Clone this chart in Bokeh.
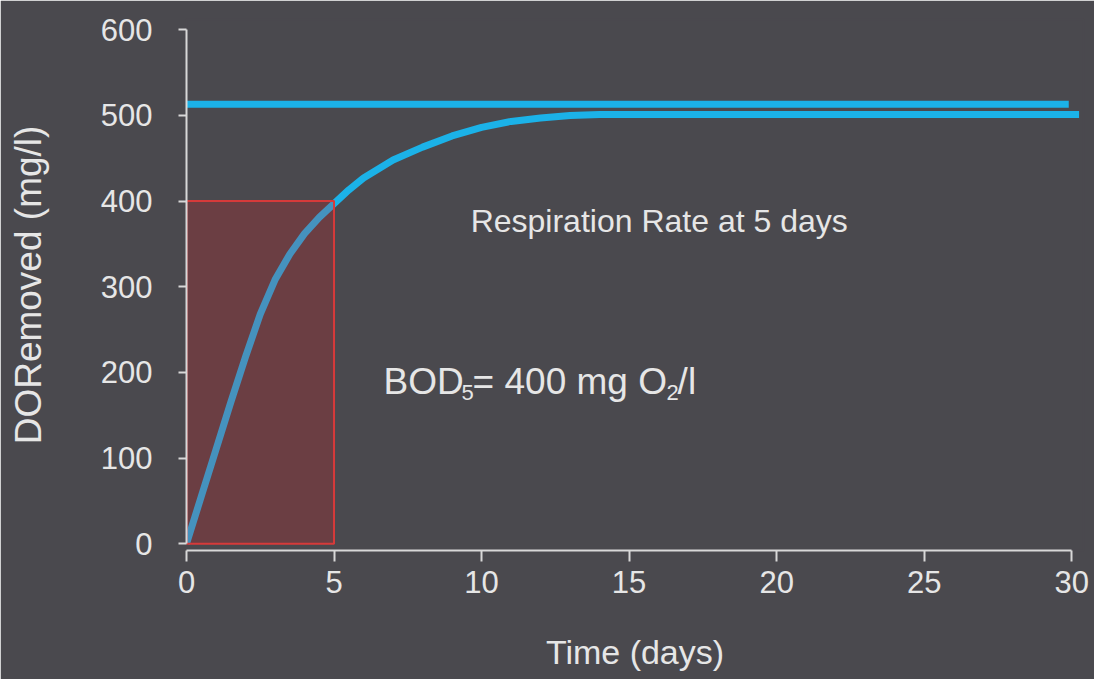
from bokeh.plotting import figure
from bokeh.models import ColumnDataSource, FixedTicker
from bokeh.core.properties import value
from bokeh.embed import file_html
from bokeh.resources import INLINE

# ---- data ----
time_days = [0, 0.5, 1, 1.5, 2, 2.5, 3, 3.5, 4, 4.5, 5, 5.5, 6, 7, 8, 9, 10, 11, 12, 13, 14, 20, 25, 30.25]
do_removed = [0, 55, 110, 165, 218, 268, 308, 338, 362, 381, 397, 413, 427, 448, 463, 476, 486, 493, 497, 500, 501, 501, 501, 501]

ultimate_x = [-0.2, 29.9]
ultimate_y = [513, 513]

bod5_day = 5
bod5_value = 400

x_ticks = [0, 5, 10, 15, 20, 25, 30]
y_ticks = [0, 100, 200, 300, 400, 500, 600]

note_text = ["Respiration Rate at 5 days"]
note_x = [9.63]
note_y = [377]

bod_parts = ["BOD", "5", "= 400 mg O", "2", "/l"]

BG = "#4a494e"
BLUE = "#1bb2e8"
FG = "#e6e6e6"
FONT = "Liberation Sans"

p = figure(width=1094, height=679, output_backend="svg", toolbar_location=None,
           x_range=(0, 30.4), y_range=(-8, 612),
           min_border_left=186, min_border_right=11, min_border_top=19, min_border_bottom=129)
p.background_fill_color = BG
p.border_fill_color = BG
p.outline_line_color = BG
p.outline_line_width = 2
p.xgrid.visible = False
p.ygrid.visible = False

for ax in (p.xaxis[0], p.yaxis[0]):
    ax.axis_line_color = "#d8d8d8"
    ax.axis_line_width = 2
    ax.major_tick_line_color = "#d8d8d8"
    ax.major_tick_line_width = 2
    ax.minor_tick_line_color = None
    ax.major_tick_in = 0
    ax.major_label_text_color = FG
    ax.major_label_text_font = FONT
    ax.major_label_text_font_size = "31px"
    ax.axis_label_text_color = FG
    ax.axis_label_text_font = FONT
    ax.axis_label_text_font_style = "normal"

p.xaxis.ticker = FixedTicker(ticks=x_ticks)
p.yaxis.ticker = FixedTicker(ticks=y_ticks)
p.xaxis.bounds = (0, 30)
p.yaxis.bounds = (0, 600)
p.xaxis.major_tick_out = 11
p.yaxis.major_tick_out = 8
p.xaxis.major_label_standoff = 9
p.yaxis.major_label_standoff = 26
p.xaxis.axis_label = "Time (days)"
p.yaxis.axis_label = "DORemoved (mg/l)"
p.xaxis.axis_label_text_font_size = "34px"
p.yaxis.axis_label_text_font_size = "37px"
p.xaxis.axis_label_standoff = 37
p.yaxis.axis_label_standoff = 49

# ultimate BOD line
p.line(ultimate_x, ultimate_y, line_color=BLUE, line_width=7)
# BOD curve
p.line(time_days, do_removed, line_color=BLUE, line_width=7, line_join="round")
# BOD5 rectangle
p.quad(left=[0], right=[bod5_day], bottom=[0], top=[bod5_value],
       fill_color="#ef1217", fill_alpha=0.2, line_color="#d63a3a", line_width=2)

# annotation texts
p.text(x=note_x, y=note_y, text=note_text, text_color=FG, text_font=value(FONT),
       text_font_size="32px", text_baseline="alphabetic", text_align="left")

bx, by = 6.68, 189
src = ColumnDataSource(dict(
    x=[bx] * 5, y=[by] * 5, text=bod_parts,
    xo=[0, 78, 89, 283, 294], yo=[0, 11, 0, 11, 0],
    fs=["37px", "22px", "37px", "22px", "37px"]))
p.text(x="x", y="y", text="text", x_offset="xo", y_offset="yo", text_font_size="fs",
       source=src, text_color=FG, text_font=value(FONT),
       text_baseline="alphabetic", text_align="left")

open("out.html", "w").write(file_html(p, INLINE))
